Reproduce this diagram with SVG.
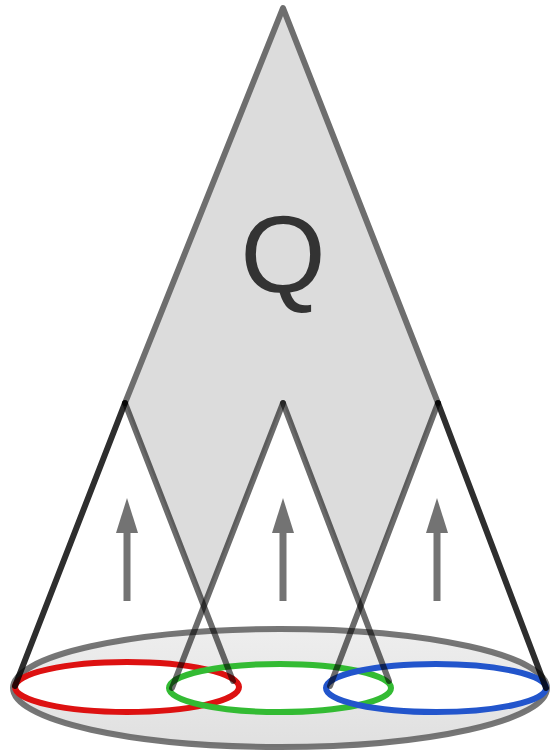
<svg xmlns="http://www.w3.org/2000/svg" width="550" height="752" viewBox="0 0 550 752">
<defs>
<style>
.tri{fill:#dcdcdc;stroke:none}
.edge{fill:none;stroke:#6e6e6e;stroke-width:6;stroke-linejoin:round;stroke-linecap:round}
.outer{stroke:#000;stroke-opacity:0.82;stroke-width:6;stroke-linecap:round;fill:none}
.inner{stroke:#000;stroke-opacity:0.58;stroke-width:6;stroke-linecap:round;fill:none}
.arrow{stroke:#737373;stroke-width:7;fill:none}
.head{fill:#737373}
.ring{fill:none;stroke-width:6}
</style>
<linearGradient id="base" x1="0" y1="0" x2="0" y2="1">
<stop offset="0" stop-color="#eeeeee"/>
<stop offset="1" stop-color="#e0e0e0"/>
</linearGradient>
</defs>
<rect width="550" height="752" fill="#fff"/>
<g id="query-cone">
<polygon class="tri" points="283,8 438,403 360,604 283,403 204,605 125,403"/>
<polyline class="edge" points="125,403 283,8 438,403"/>
<text x="283" y="292" text-anchor="middle" font-family="Liberation Sans, Arial, sans-serif" font-size="110" fill="#333">Q</text>
</g>
<g id="base-ellipse">
<ellipse cx="280" cy="688" rx="267" ry="59" fill="url(#base)" stroke="#5e5e5e" stroke-opacity="0.85" stroke-width="6"/>
</g>
<g id="sub-ellipses">
<ellipse cx="127" cy="687" rx="112" ry="25" fill="#fff"/>
<ellipse cx="280" cy="688" rx="111" ry="24" fill="#fff"/>
<ellipse cx="436" cy="688" rx="110" ry="24" fill="#fff"/>
<ellipse id="red" class="ring" cx="127" cy="687" rx="112" ry="25" stroke="#dd1111"/>
<ellipse id="green" class="ring" cx="280" cy="688" rx="111" ry="24" stroke="#33bb33"/>
<ellipse id="blue" class="ring" cx="436" cy="688" rx="110" ry="24" stroke="#2255cc"/>
</g>
<g id="connectors">
<line class="outer" x1="125" y1="403" x2="15" y2="686"/>
<line class="inner" x1="125" y1="403" x2="233" y2="681"/>
<line class="inner" x1="283" y1="403" x2="172" y2="688"/>
<line class="inner" x1="283" y1="403" x2="389" y2="681"/>
<line class="inner" x1="438" y1="403" x2="330" y2="686"/>
<line class="outer" x1="438" y1="403" x2="546" y2="688"/>
<line class="arrow" x1="127" y1="601" x2="127" y2="528"/>
<polygon class="head" points="127,498 116,533 138,533"/>
<line class="arrow" x1="283" y1="601" x2="283" y2="528"/>
<polygon class="head" points="283,498 272,533 294,533"/>
<line class="arrow" x1="437" y1="601" x2="437" y2="528"/>
<polygon class="head" points="437,498 426,533 448,533"/>
</g>
</svg>
